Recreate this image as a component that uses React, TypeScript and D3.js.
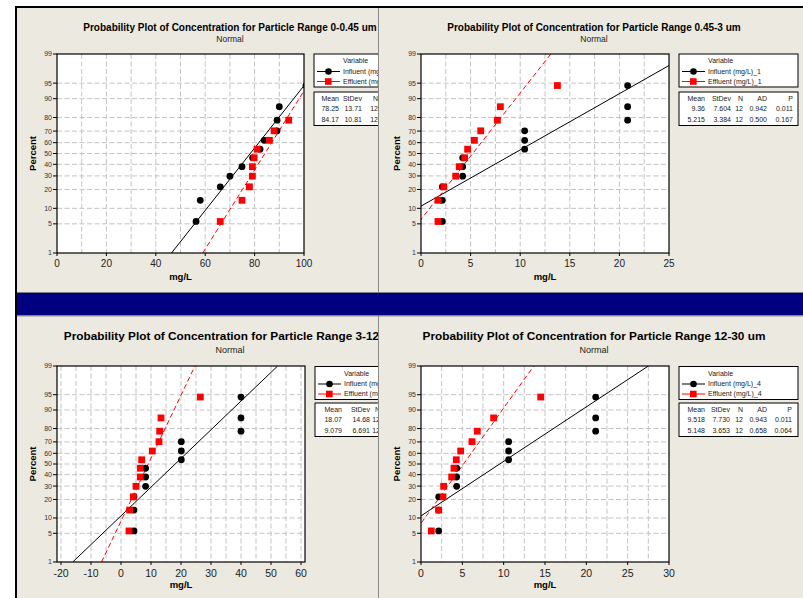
import * as d3 from 'd3';

// plotting positions (Minitab median ranks, %) shared by every sample of 12
const percentRanks = [5.6, 13.7, 21.8, 29.8, 37.9, 46.0, 54.0, 62.1, 70.2, 78.2, 86.3, 94.4];
const percentTicks = [1, 5, 10, 20, 30, 40, 50, 60, 70, 80, 90, 95, 99];
const percentGrid = [5, 10, 20, 30, 40, 50, 60, 70, 80, 90, 95];
const statsHeader = ['Mean', 'StDev', 'N', 'AD', 'P'];

// 0-0.45 um
const influent045 = [56.3, 58.0, 66.1, 70.0, 74.9, 79.2, 82.2, 83.9, 89.1, 89.1, 90.0, 100.8];
const effluent045 = [66.1, 74.9, 77.9, 79.1, 79.1, 79.8, 81.0, 86.0, 87.9, 93.8, 101.5, 102.9];
const names045 = ['Influent (mg/L)', 'Effluent (mg/L)'];
const stats045 = [['78.25', '13.71', '12'], ['84.17', '10.81', '12']];
const xTicks045 = [0, 20, 40, 60, 80, 100];
const xGrid045 = [10, 20, 30, 40, 50, 60, 70, 80, 90];

// 0.45-3 um
const influent453 = [2.15, 2.15, 2.15, 4.2, 4.2, 4.2, 10.45, 10.45, 10.45, 20.83, 20.83, 20.83];
const effluent453 = [1.71, 1.71, 2.29, 3.5, 3.86, 4.4, 4.7, 5.38, 6.02, 7.7, 8.0, 13.75];
const names453 = ['Influent (mg/L)_1', 'Effluent (mg/L)_1'];
const stats453 = [['9.36', '7.604', '12', '0.942', '0.011'], ['5.215', '3.384', '12', '0.500', '0.167']];
const xTicks453 = [0, 5, 10, 15, 20, 25];
const xGrid453 = [2.5, 5, 7.5, 10, 12.5, 15, 17.5, 20, 22.5];

// 3-12 um
const influent312 = [4.33, 4.33, 4.33, 8.2, 8.2, 8.2, 20.1, 20.1, 20.1, 40.0, 40.0, 40.0];
const effluent312 = [2.67, 2.89, 4.11, 5.0, 6.44, 6.44, 6.89, 10.44, 12.67, 12.89, 13.33, 26.44];
const names312 = ['Influent (mg/L)_3', 'Effluent (mg/L)_3'];
const stats312 = [['18.07', '14.68', '12'], ['9.079', '6.691', '12']];
const xTicks312 = [-20, -10, 0, 10, 20, 30, 40, 50, 60];
const xGrid312 = [-20, -15, -10, -5, 0, 5, 10, 15, 20, 25, 30, 35, 40, 45, 50, 55, 60];

// 12-30 um
const influent1230 = [2.14, 2.14, 2.14, 4.31, 4.31, 4.31, 10.6, 10.6, 10.6, 21.13, 21.13, 21.13];
const effluent1230 = [1.25, 2.14, 2.66, 2.74, 3.71, 3.99, 4.27, 4.8, 6.17, 6.81, 8.79, 14.48];
const names1230 = ['Influent (mg/L)_4', 'Effluent (mg/L)_4'];
const stats1230 = [['9.518', '7.730', '12', '0.943', '0.011'], ['5.148', '3.653', '12', '0.658', '0.064']];
const xTicks1230 = [0, 5, 10, 15, 20, 25, 30];
const xGrid1230 = [2.5, 5, 7.5, 10, 12.5, 15, 17.5, 20, 22.5, 25, 27.5];

const FONT = "'Liberation Sans', Arial, sans-serif";
const BEIGE = '#ece9e0';
const GRID = '#c3c3c3';

// inverse normal cdf (Acklam)
function probit(p: number): number {
  const a = [-39.69683028665376, 220.9460984245205, -275.9285104469687, 138.357751867269, -30.66479806614716, 2.506628277459239];
  const b = [-54.47609879822406, 161.5858368580409, -155.6989798598866, 66.80131188771972, -13.28068155288572];
  const c = [-0.007784894002430293, -0.3223964580411365, -2.400758277161838, -2.549671010115355, 4.374664141464968, 2.938163982698783];
  const d = [0.007784695709041462, 0.3224671290700398, 2.445134137142996, 3.754408661907416];
  const lo = 0.02425;
  if (p < lo) {
    const q = Math.sqrt(-2 * Math.log(p));
    return (((((c[0] * q + c[1]) * q + c[2]) * q + c[3]) * q + c[4]) * q + c[5]) / ((((d[0] * q + d[1]) * q + d[2]) * q + d[3]) * q + 1);
  }
  if (p > 1 - lo) return -probit(1 - p);
  const q = p - 0.5;
  const r = q * q;
  return (((((a[0] * r + a[1]) * r + a[2]) * r + a[3]) * r + a[4]) * r + a[5]) * q / (((((b[0] * r + b[1]) * r + b[2]) * r + b[3]) * r + b[4]) * r + 1);
}

type PanelCfg = {
  id: string;
  win: [number, number, number, number];
  plot: [number, number, number, number];
  pad: number;
  xDomain: [number, number];
  xTicks: number[];
  xGrid: number[];
  influent: number[];
  effluent: number[];
  names: string[];
  stats: string[][];
  cols: number[];
  title: string;
  titleSize: number;
  titleOffset: number;
  tickSize: number;
  big: boolean;
};

function Panel({ cfg }: { cfg: PanelCfg }) {
  const [wx, wy, ww, wh] = cfg.win;
  const [px, py, pw, ph] = cfg.plot;
  const x = d3.scaleLinear().domain(cfg.xDomain).range([px + cfg.pad, px + pw - cfg.pad]);
  const y = d3.scaleLinear().domain([probit(0.01), probit(0.99)]).range([py + ph, py]);
  const yp = (v: number) => y(probit(v / 100));
  const line = d3.line();
  const fit = (i: number) => {
    const m = Number(cfg.stats[i][0]);
    const s = Number(cfg.stats[i][1]);
    const z0 = probit(0.01), z1 = probit(0.99);
    return line([[x(m + z0 * s), y(z0)], [x(m + z1 * s), y(z1)]]) || '';
  };
  const cx = px + 173;
  const lx = px + pw + 10;
  const ly = py + (cfg.big ? 0.5 : 0);
  const sy = cfg.big ? py + 37 : py + 38;
  return (
    <g clipPath={`url(#win-${cfg.id})`}>
      <defs>
        <clipPath id={`win-${cfg.id}`}><rect x={wx} y={wy} width={ww} height={wh} /></clipPath>
        <clipPath id={`plot-${cfg.id}`}><rect x={px} y={py} width={pw} height={ph} /></clipPath>
      </defs>
      <rect x={wx} y={wy} width={ww} height={wh} fill={BEIGE} />
      <text x={px + cfg.titleOffset} y={py - (cfg.big ? 30 : 27)} dy="0.35em" textAnchor="middle" fontWeight="bold" fontSize={cfg.titleSize}>{cfg.title}</text>
      <text x={cx} y={py - (cfg.big ? 16 : 15)} dy="0.35em" textAnchor="middle" fontSize={cfg.big ? 9 : 8.5} fill="#222">Normal</text>
      <rect x={px} y={py} width={pw} height={ph} fill="#fff" />
      {percentGrid.map(p => (
        <line key={'h' + p} x1={px} x2={px + pw} y1={yp(p)} y2={yp(p)} stroke={GRID} strokeDasharray="5,2.5" />
      ))}
      {cfg.xGrid.map(v => (
        <line key={'v' + v} x1={x(v)} x2={x(v)} y1={py} y2={py + ph} stroke={GRID} strokeDasharray="5,2.5" />
      ))}
      <g clipPath={`url(#plot-${cfg.id})`}>
        <path d={fit(0)} stroke="#000" fill="none" strokeWidth={1} />
        <path d={fit(1)} stroke="#f00" fill="none" strokeWidth={1} strokeDasharray="5,3" />
        {cfg.influent.map((v, i) => (
          <circle key={'i' + i} cx={x(v)} cy={yp(percentRanks[i])} r={3.4} fill="#000" />
        ))}
        {cfg.effluent.map((v, i) => (
          <rect key={'e' + i} x={x(v) - 3.4} y={yp(percentRanks[i]) - 3.4} width={6.8} height={6.8} fill="#f00" />
        ))}
      </g>
      <rect x={px} y={py} width={pw} height={ph} fill="none" stroke="#000" strokeWidth={1.2} />
      {percentTicks.map(p => (
        <g key={'yt' + p}>
          <line x1={px - 4} x2={px} y1={yp(p)} y2={yp(p)} stroke="#000" />
          <text x={px - 5} y={yp(p)} dy="0.35em" textAnchor="end" fontSize={7} fill="#333">{p}</text>
        </g>
      ))}
      {cfg.xTicks.map(v => (
        <g key={'xt' + v}>
          <line x1={x(v)} x2={x(v)} y1={py + ph} y2={py + ph + 3} stroke="#000" />
          <text x={x(v)} y={py + ph + (cfg.big ? 11 : 10.5)} dy="0.35em" textAnchor="middle" fontSize={cfg.tickSize} fill="#222">{v}</text>
        </g>
      ))}
      <text x={px + pw / 2} y={py + ph + (cfg.big ? 23 : 23.5)} dy="0.35em" textAnchor="middle" fontWeight="bold" fontSize={9.5}>mg/L</text>
      <text transform={`translate(${px - 24},${py + ph / 2}) rotate(-90)`} dy="0.35em" textAnchor="middle" fontWeight="bold" fontSize={9.5}>Percent</text>
      {/* legend */}
      <rect x={lx} y={ly} width={119} height={33} fill="#fff" stroke="#000" strokeWidth={1} />
      <text x={lx + 29} y={ly + 7} dy="0.35em" fontSize={7} fill="#222">Variable</text>
      {cfg.names.map((n, i) => {
        const yy = ly + 17.5 + i * 10;
        return (
          <g key={n}>
            <line x1={lx + 3} x2={lx + 26} y1={yy} y2={yy} stroke={i ? '#f00' : '#000'} />
            {i ? <rect x={lx + 11} y={yy - 3.3} width={6.6} height={6.6} fill="#f00" /> : <circle cx={lx + 14.5} cy={yy} r={3.3} fill="#000" />}
            <text x={lx + 29} y={yy} dy="0.35em" fontSize={7} fill="#222">{n}</text>
          </g>
        );
      })}
      <rect x={lx} y={sy} width={119} height={33.5} fill="#fff" stroke="#000" strokeWidth={1} />
      {statsHeader.map((h, j) => (
        <text key={h} x={lx + cfg.cols[j]} y={sy + 7} dy="0.35em" textAnchor="end" fontSize={7} fill="#222">{h}</text>
      ))}
      {cfg.stats.map((row, i) => row.map((s, j) => (
        <text key={i + '-' + j} x={lx + cfg.cols[j]} y={sy + 17 + i * 11} dy="0.35em" textAnchor="end" fontSize={7} fill="#222">{s}</text>
      )))}
    </g>
  );
}

export default function App() {
  const panels: PanelCfg[] = [
    {
      id: 'a', win: [17, 8, 361, 284], plot: [57, 54, 247, 199], pad: 0, xDomain: [0, 100],
      xTicks: xTicks045, xGrid: xGrid045, influent: influent045, effluent: effluent045, names: names045,
      stats: stats045, cols: [25, 48, 64, 88, 114],
      title: 'Probability Plot of Concentration for Particle Range 0-0.45 um', titleSize: 10, titleOffset: 173, tickSize: 10, big: false,
    },
    {
      id: 'b', win: [379, 8, 424, 284], plot: [421, 54, 248, 199], pad: 0, xDomain: [0, 25],
      xTicks: xTicks453, xGrid: xGrid453, influent: influent453, effluent: effluent453, names: names453,
      stats: stats453, cols: [26, 52, 64, 88, 114],
      title: 'Probability Plot of Concentration for Particle Range 0.45-3 um', titleSize: 10, titleOffset: 173, tickSize: 10, big: false,
    },
    {
      id: 'c', win: [17, 317, 361, 281], plot: [57, 366, 248, 196], pad: 4, xDomain: [-20, 60],
      xTicks: xTicks312, xGrid: xGrid312, influent: influent312, effluent: effluent312, names: names312,
      stats: stats312, cols: [27, 55, 65, 89, 114],
      title: 'Probability Plot of Concentration for Particle Range 3-12 um', titleSize: 11.8, titleOffset: 175, tickSize: 10.5, big: true,
    },
    {
      id: 'd', win: [379, 317, 424, 281], plot: [421, 366, 248, 196], pad: 0, xDomain: [0, 30],
      xTicks: xTicks1230, xGrid: xGrid1230, influent: influent1230, effluent: effluent1230, names: names1230,
      stats: stats1230, cols: [26, 51, 64, 88, 113],
      title: 'Probability Plot of Concentration for Particle Range 12-30 um', titleSize: 11.8, titleOffset: 173, tickSize: 10.5, big: true,
    },
  ];
  return (
    <svg width={803} height={598} style={{ position: 'absolute', left: 0, top: 0, fontFamily: FONT }}>
      <rect x={0} y={0} width={803} height={598} fill="#fff" />
      {panels.map(p => <Panel key={p.id} cfg={p} />)}
      <rect x={17} y={292} width={786} height={1} fill="#808080" />
      <rect x={17} y={293} width={786} height={22} fill="#000080" />
      <rect x={17} y={315} width={786} height={1.5} fill="#808080" />
      <rect x={378} y={8} width={1} height={284} fill="#8a8a8a" />
      <rect x={378} y={316} width={1} height={282} fill="#8a8a8a" />
      <rect x={15} y={6} width={788} height={2} fill="#000" />
      <rect x={15} y={6} width={2} height={592} fill="#000" />
    </svg>
  );
}
